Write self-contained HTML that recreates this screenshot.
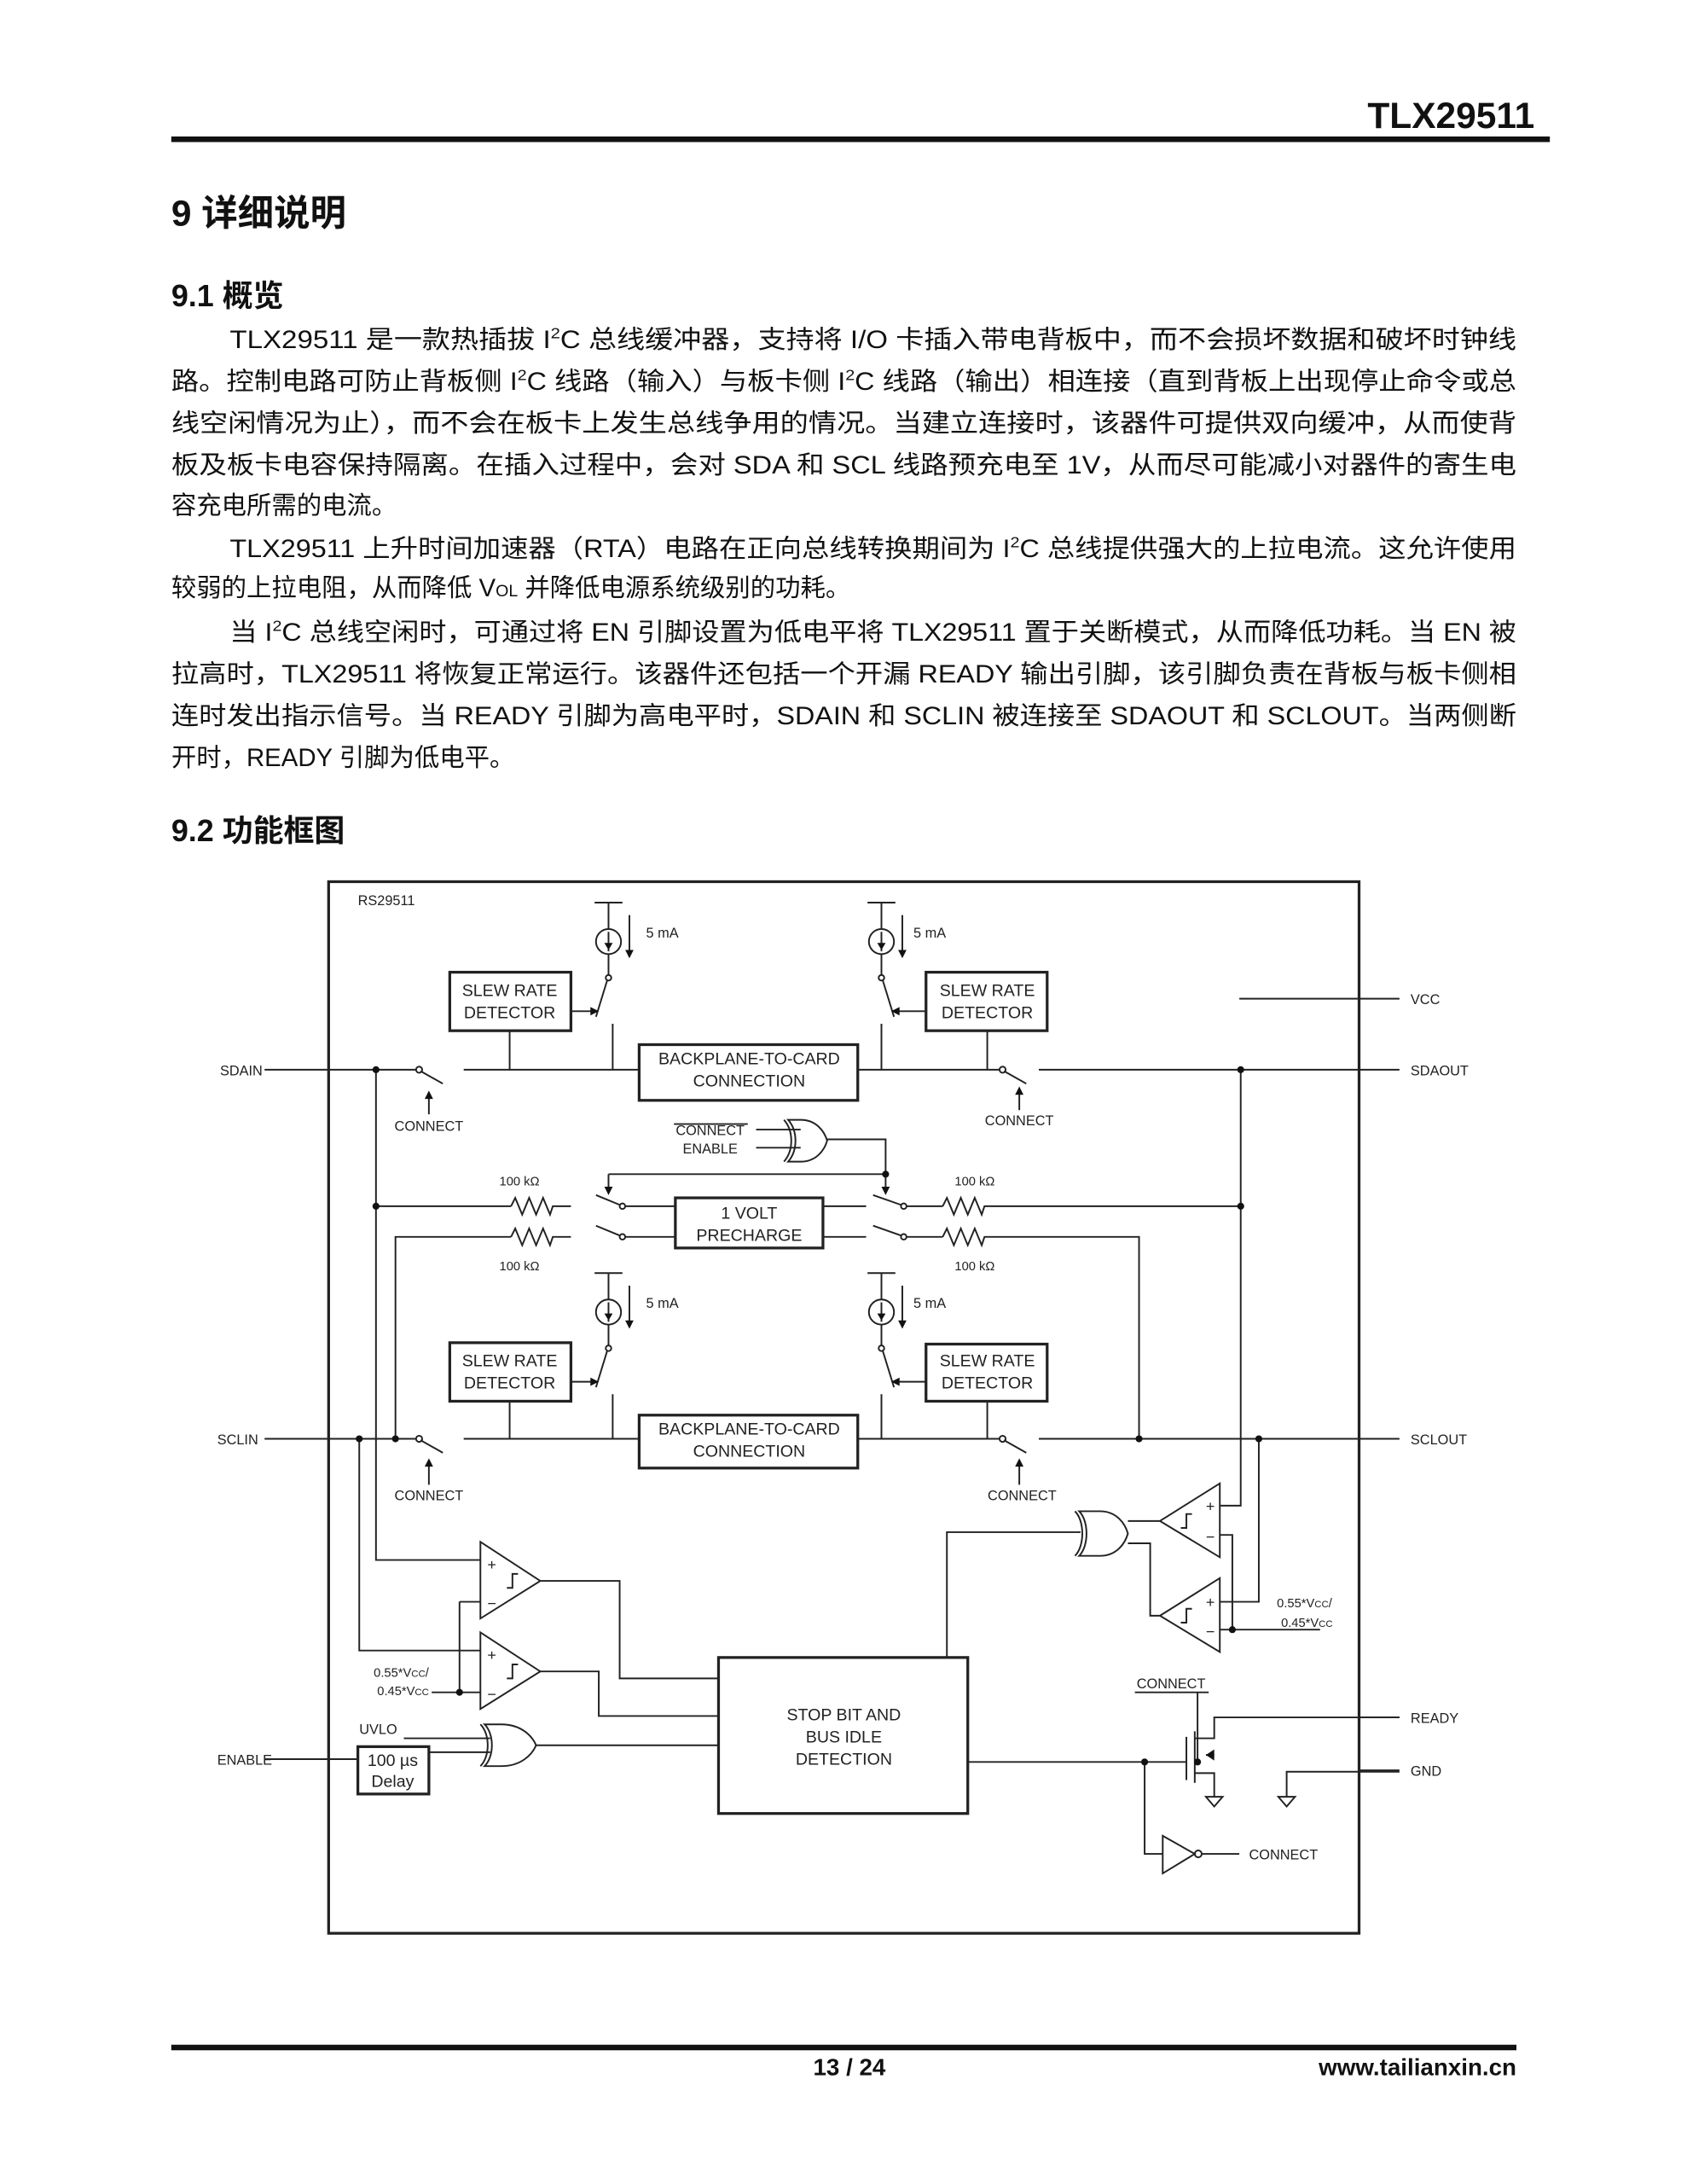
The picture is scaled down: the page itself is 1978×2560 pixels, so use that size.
<!DOCTYPE html>
<html><head><meta charset="utf-8"><style>
html,body{margin:0;padding:0;background:#fff}
svg{display:block}
.t{font-family:"Liberation Sans","Noto Sans CJK SC",sans-serif;fill:#111}
.s{font-family:"Liberation Sans",sans-serif;fill:#222}
</style></head><body>
<svg width="1978" height="2560" viewBox="0 0 1211.5 1568" preserveAspectRatio="none" xmlns="http://www.w3.org/2000/svg">
<rect width="1220" height="1579" fill="#fff"/>
<text class="t" x="1102" y="92" font-size="26" font-weight="bold" text-anchor="end">TLX29511</text>
<rect x="123" y="98" width="990" height="4" fill="#111"/>
<text class="t" x="123" y="162" font-size="26" font-weight="bold">9 详细说明</text>
<text class="t" x="123" y="220" font-size="22" font-weight="bold">9.1 概览</text>
<g class="t" font-size="18">
<text x="165" y="250" textLength="924" lengthAdjust="spacingAndGlyphs">TLX29511 是一款热插拔 I<tspan font-size="11" dy="-7">2</tspan><tspan dy="7">C 总线缓冲器，支持将 I/O 卡插入带电背板中，而不会损坏数据和破坏时钟线</tspan></text>
<text x="123" y="280" textLength="966" lengthAdjust="spacingAndGlyphs">路。控制电路可防止背板侧 I<tspan font-size="11" dy="-7">2</tspan><tspan dy="7">C 线路（输入）与板卡侧 I</tspan><tspan font-size="11" dy="-7">2</tspan><tspan dy="7">C 线路（输出）相连接（直到背板上出现停止命令或总</tspan></text>
<text x="123" y="310" textLength="966" lengthAdjust="spacingAndGlyphs">线空闲情况为止），而不会在板卡上发生总线争用的情况。当建立连接时，该器件可提供双向缓冲，从而使背</text>
<text x="123" y="340" textLength="966" lengthAdjust="spacingAndGlyphs">板及板卡电容保持隔离。在插入过程中，会对 SDA 和 SCL 线路预充电至 1V，从而尽可能减小对器件的寄生电</text>
<text x="123" y="369">容充电所需的电流。</text>
<text x="165" y="400" textLength="924" lengthAdjust="spacingAndGlyphs">TLX29511 上升时间加速器（RTA）电路在正向总线转换期间为 I<tspan font-size="11" dy="-7">2</tspan><tspan dy="7">C 总线提供强大的上拉电流。这允许使用</tspan></text>
<text x="123" y="428">较弱的上拉电阻，从而降低 V<tspan font-size="12">OL</tspan> 并降低电源系统级别的功耗。</text>
<text x="165" y="460" textLength="924" lengthAdjust="spacingAndGlyphs">当 I<tspan font-size="11" dy="-7">2</tspan><tspan dy="7">C 总线空闲时，可通过将 EN 引脚设置为低电平将 TLX29511 置于关断模式，从而降低功耗。当 EN 被</tspan></text>
<text x="123" y="490" textLength="966" lengthAdjust="spacingAndGlyphs">拉高时，TLX29511 将恢复正常运行。该器件还包括一个开漏 READY 输出引脚，该引脚负责在背板与板卡侧相</text>
<text x="123" y="520" textLength="966" lengthAdjust="spacingAndGlyphs">连时发出指示信号。当 READY 引脚为高电平时，SDAIN 和 SCLIN 被连接至 SDAOUT 和 SCLOUT。当两侧断</text>
<text x="123" y="550">开时，READY 引脚为低电平。</text>
</g>
<text class="t" x="123" y="604" font-size="22" font-weight="bold">9.2 功能框图</text>

<g fill="none" stroke="#222" stroke-width="1.2">
<rect x="236" y="633" width="740" height="755" stroke-width="2"/>
<path d="M890 717H1005M976 768H1005M976 1033H1005M976 1233H1005M976 1271H1005M190 768H236M190 1033H236M190 1263H257"/>
<path d="M236 768H299M333 768H459M616 768H718M746 768H976"/>
<circle cx="301" cy="768" r="2.2"/><path d="M302 769L318 778"/>
<circle cx="720" cy="768" r="2.2"/><path d="M721 769L737 778"/>
<path d="M236 1033H299M333 1033H459M616 1033H718M746 1033H976"/>
<circle cx="301" cy="1033" r="2.2"/><path d="M302 1034L318 1043"/>
<circle cx="720" cy="1033" r="2.2"/><path d="M721 1034L737 1043"/>
<rect x="459" y="750" width="157" height="40" stroke-width="2"/>
<rect x="459" y="1016" width="157" height="38" stroke-width="2"/>
<rect x="323" y="698" width="87" height="42" stroke-width="2"/>
<rect x="665" y="698" width="87" height="42" stroke-width="2"/>
<rect x="323" y="964" width="87" height="42" stroke-width="2"/>
<rect x="665" y="965" width="87" height="41" stroke-width="2"/>
<path d="M366 740V768M709 740V768M366 1006V1033M709 1006V1033"/>
<g>
<path d="M427 648H447M437 648V667M437 685V700M452 657V686"/>
<circle cx="437" cy="676" r="9"/>
<path d="M437 669V683"/>
<circle cx="437" cy="702" r="2"/>
<path d="M436 704L428 730M440 735V768"/>
<path d="M410 726H428"/>
</g>
<g>
<path d="M623 648H643M633 648V667M633 685V700M648 657V686"/>
<circle cx="633" cy="676" r="9"/>
<path d="M633 669V683"/>
<circle cx="633" cy="702" r="2"/>
<path d="M634 704L642 730M633 735V768M665 726H645"/>
</g>
<g transform="translate(0,266)">
<path d="M427 648H447M437 648V667M437 685V700M452 657V686"/>
<circle cx="437" cy="676" r="9"/>
<path d="M437 669V683"/>
<circle cx="437" cy="702" r="2"/>
<path d="M436 704L428 730M440 735V767M410 726H428"/>
<path d="M623 648H643M633 648V667M633 685V700M648 657V686"/>
<circle cx="633" cy="676" r="9"/>
<path d="M633 669V683"/>
<circle cx="633" cy="702" r="2"/>
<path d="M634 704L642 730M633 735V767M665 726H645"/>
</g>
<path d="M308 800V785M732 797V782M308 1066V1049M732 1066V1049"/>
<rect x="485" y="860" width="106" height="36" stroke-width="2"/>
<path d="M270 866H367M367 866l3-6l5 12l5-12l5 12l5-12l5 12l2-6H410"/>
<path d="M284 1033V888H367M367 888l3-6l5 12l5-12l5 12l5-12l5 12l2-6H410"/>
<path d="M428 858L445 865M428 880L445 887"/>
<circle cx="447" cy="866" r="2"/><circle cx="447" cy="888" r="2"/>
<path d="M449 866H485M449 888H485M591 866H622M591 888H622"/>
<path d="M627 858L647 865M627 880L647 887"/>
<circle cx="649" cy="866" r="2"/><circle cx="649" cy="888" r="2"/>
<path d="M651 866H677M677 866l3-6l5 12l5-12l5 12l5-12l5 12l2-6H891"/>
<path d="M651 888H677M677 888l3-6l5 12l5-12l5 12l5-12l5 12l2-6H818V1033"/>
<path d="M543 811H575M543 824H575"/>
<path d="M566 804C573 812 573 826 566 834H575C586 834 592 826 594 819C592 812 586 804 575 804Z"/>
<path d="M563 804C570 812 570 826 563 834"/>
<path d="M594 818H636V843M437 843H636V856M437 843V856"/>
<path d="M270 768V1120H345M258 1033V1185H345M891 768V1081H876M904 1033V1150H876"/>
<path d="M345 1107L388 1135L345 1162Z M345 1172L388 1200L345 1227Z"/>
<path d="M330 1150H345M330 1150V1215M310 1215H345"/>
<path d="M364 1140h4v-10h4 M364 1205h4v-10h4"/>
<path d="M388 1135H445V1205H516M388 1200H430V1232H516"/>
<rect x="516" y="1190" width="179" height="112" stroke-width="2"/>
<path d="M290 1248H352M308 1258H352M385 1253H516"/>
<path d="M348 1238C355 1245 355 1261 348 1268H360C374 1268 382 1260 385 1253C382 1246 374 1238 360 1238Z"/>
<path d="M345 1238C352 1245 352 1261 345 1268"/>
<rect x="257" y="1254" width="51" height="34" stroke-width="2"/>
<path d="M876 1065L833 1092L876 1118Z M876 1133L833 1160L876 1186Z"/>
<path d="M876 1102H885V1170H876M885 1170H948"/>
<path d="M856 1087h-4v10h-4 M856 1155h-4v10h-4"/>
<path d="M833 1092H810M833 1160H826V1108H810"/>
<path d="M775 1085C782 1092 782 1110 775 1117H790C802 1117 808 1108 810 1101C808 1094 802 1085 790 1085Z"/>
<path d="M772 1085C779 1092 779 1110 772 1117"/>
<path d="M776 1100H680V1190"/>
<path d="M695 1265H852M860 1215V1265M852 1247V1278M858 1243V1280M858 1248H872V1233H1005M858 1273H872V1290"/>
<path d="M866 1260H872"/>
<path d="M866 1290H878L872 1297Z M918 1290H930L924 1297Z M924 1290V1272H1005"/>
<path d="M822 1265V1331H835M835 1318L858 1331L835 1345Z M863 1331H890"/>
<circle cx="860.5" cy="1331" r="2.5"/>
<path d="M815 1215H868M484 807H537"/>
</g>
<g fill="#111">
<circle cx="270" cy="768" r="2.5"/><circle cx="891" cy="768" r="2.5"/>
<circle cx="270" cy="866" r="2.5"/><circle cx="891" cy="866" r="2.5"/>
<circle cx="636" cy="843" r="2.5"/>
<circle cx="258" cy="1033" r="2.5"/><circle cx="284" cy="1033" r="2.5"/>
<circle cx="818" cy="1033" r="2.5"/><circle cx="904" cy="1033" r="2.5"/>
<circle cx="330" cy="1215" r="2.5"/><circle cx="885" cy="1170" r="2.5"/>
<circle cx="822" cy="1265" r="2.5"/><circle cx="860" cy="1265" r="2.5"/>
<path d="M437 682l-3-5h6z M452 688l-3-6h6z M633 682l-3-5h6z M648 688l-3-6h6z"/>
<path d="M437 948l-3-5h6z M452 954l-3-6h6z M633 948l-3-5h6z M648 954l-3-6h6z"/>
<path d="M430 726l-6-3v6z M640 726l6-3v6z M430 992l-6-3v6z M640 992l6-3v6z"/>
<path d="M308 783l-3 6h6z M732 780l-3 6h6z M308 1047l-3 6h6z M732 1047l-3 6h6z"/>
<path d="M437 858l-3-6h6z M636 858l-3-6h6z"/>
<path d="M866 1260l6-4v8z"/>
</g>
<g class="s" font-size="10">
<text x="257" y="650">RS29511</text>
<text x="464" y="673">5 mA</text><text x="656" y="673">5 mA</text>
<text x="464" y="939">5 mA</text><text x="656" y="939">5 mA</text>
<text x="158" y="772">SDAIN</text><text x="156" y="1037">SCLIN</text><text x="156" y="1267">ENABLE</text>
<text x="1013" y="721">VCC</text><text x="1013" y="772">SDAOUT</text><text x="1013" y="1037">SCLOUT</text>
<text x="1013" y="1237">READY</text><text x="1013" y="1275">GND</text>
<text x="308" y="812" text-anchor="middle">CONNECT</text><text x="732" y="808" text-anchor="middle">CONNECT</text>
<text x="308" y="1077" text-anchor="middle">CONNECT</text><text x="734" y="1077" text-anchor="middle">CONNECT</text>
<text x="510" y="815" text-anchor="middle">CONNECT</text><text x="510" y="828" text-anchor="middle">ENABLE</text>
<text x="841" y="1212" text-anchor="middle">CONNECT</text>
<text x="897" y="1335">CONNECT</text>
<text x="258" y="1245">UVLO</text>
<text x="373" y="851" text-anchor="middle" font-size="9">100 kΩ</text><text x="373" y="912" text-anchor="middle" font-size="9">100 kΩ</text>
<text x="700" y="851" text-anchor="middle" font-size="9">100 kΩ</text><text x="700" y="912" text-anchor="middle" font-size="9">100 kΩ</text>
<text x="308" y="1204" text-anchor="end" font-size="9">0.55*V<tspan font-size="7">CC</tspan>/</text>
<text x="308" y="1217" text-anchor="end" font-size="9">0.45*V<tspan font-size="7">CC</tspan></text>
<text x="917" y="1154" font-size="9">0.55*V<tspan font-size="7">CC</tspan>/</text>
<text x="920" y="1168" font-size="9">0.45*V<tspan font-size="7">CC</tspan></text>
<text x="350" y="1127" font-size="11">+</text><text x="350" y="1155" font-size="11">−</text>
<text x="350" y="1192" font-size="11">+</text><text x="350" y="1220" font-size="11">−</text>
<text x="866" y="1085" font-size="11">+</text><text x="866" y="1107" font-size="11">−</text>
<text x="866" y="1154" font-size="11">+</text><text x="866" y="1175" font-size="11">−</text>
</g>
<g class="s" font-size="12" text-anchor="middle">
<text x="366" y="715">SLEW RATE</text><text x="366" y="731">DETECTOR</text>
<text x="709" y="715">SLEW RATE</text><text x="709" y="731">DETECTOR</text>
<text x="366" y="981">SLEW RATE</text><text x="366" y="997">DETECTOR</text>
<text x="709" y="981">SLEW RATE</text><text x="709" y="997">DETECTOR</text>
<text x="538" y="764">BACKPLANE-TO-CARD</text><text x="538" y="780">CONNECTION</text>
<text x="538" y="1030">BACKPLANE-TO-CARD</text><text x="538" y="1046">CONNECTION</text>
<text x="538" y="875">1 VOLT</text><text x="538" y="891">PRECHARGE</text>
<text x="606" y="1235">STOP BIT AND</text><text x="606" y="1251">BUS IDLE</text><text x="606" y="1267">DETECTION</text>
<text x="282" y="1268">100 µs</text><text x="282" y="1283">Delay</text>
</g>
<rect x="123" y="1468" width="966" height="4" fill="#111"/>
<text class="t" x="610" y="1490" font-size="17" font-weight="bold" text-anchor="middle">13 / 24</text>
<text class="t" x="1089" y="1490" font-size="17" font-weight="bold" text-anchor="end">www.tailianxin.cn</text>
</svg>
</body></html>
